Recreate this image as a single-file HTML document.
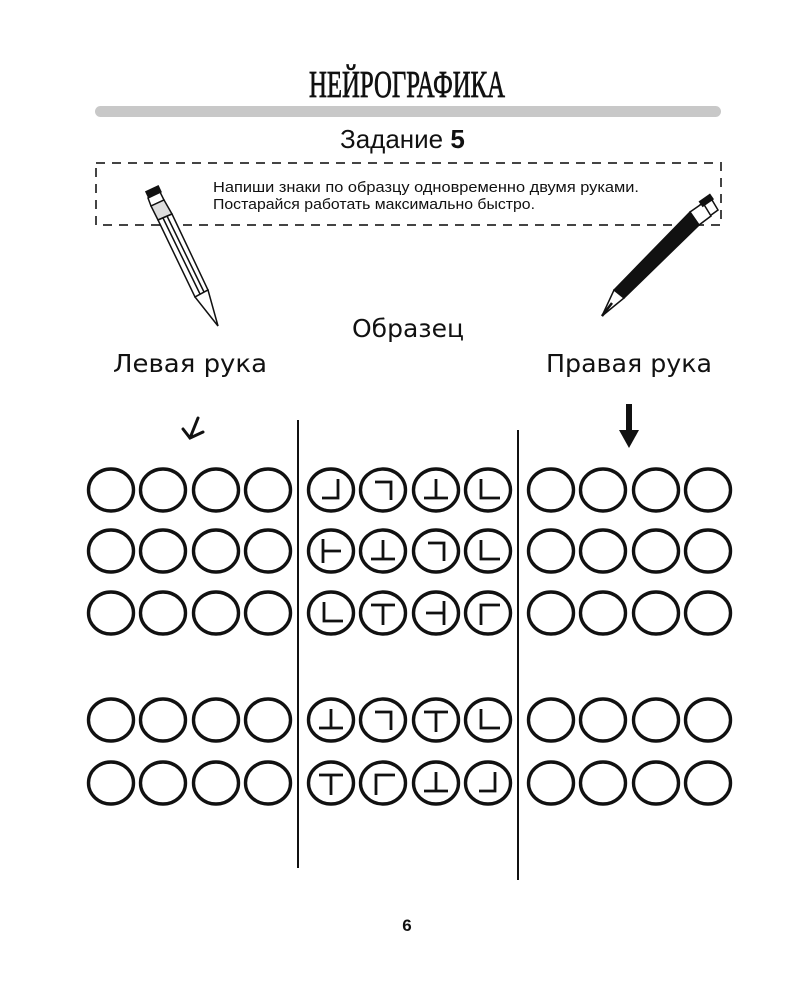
<!DOCTYPE html>
<html><head><meta charset="utf-8"><style>
html,body{margin:0;padding:0;background:#fff;}
svg{display:block}
</style></head><body>
<svg width="800" height="1000" viewBox="0 0 800 1000" xmlns="http://www.w3.org/2000/svg">
<defs>
<g id="row" fill="none" stroke="#111" stroke-width="3.4">
<ellipse cx="111" cy="0" rx="22.5" ry="21"/><ellipse cx="163" cy="0" rx="22.5" ry="21"/><ellipse cx="216" cy="0" rx="22.5" ry="21"/><ellipse cx="268" cy="0" rx="22.5" ry="21"/>
<ellipse cx="331" cy="0" rx="22.5" ry="21"/><ellipse cx="383" cy="0" rx="22.5" ry="21"/><ellipse cx="436" cy="0" rx="22.5" ry="21"/><ellipse cx="488" cy="0" rx="22.5" ry="21"/>
<ellipse cx="551" cy="0" rx="22.5" ry="21"/><ellipse cx="603" cy="0" rx="22.5" ry="21"/><ellipse cx="656" cy="0" rx="22.5" ry="21"/><ellipse cx="708" cy="0" rx="22.5" ry="21"/>
</g>
</defs>
<rect width="800" height="1000" fill="#fff"/>
<text x="407" y="97" text-anchor="middle" font-family="Liberation Serif, serif" font-size="38" fill="#111" stroke="#111" stroke-width="0.8" textLength="196" lengthAdjust="spacingAndGlyphs">НЕЙРОГРАФИКА</text>
<rect x="95" y="106" width="626" height="11" rx="5.5" fill="#c8c8c8"/>
<text x="340" y="148" font-family="Liberation Sans, sans-serif" font-size="26" fill="#111">Задание <tspan font-weight="bold">5</tspan></text>
<rect x="96" y="163" width="625" height="62" fill="none" stroke="#444" stroke-width="2" stroke-dasharray="9 7"/>
<text x="213" y="192" font-family="Liberation Sans, sans-serif" font-size="14.5" fill="#111" textLength="426" lengthAdjust="spacingAndGlyphs">Напиши знаки по образцу одновременно двумя руками.</text>
<text x="213" y="209" font-family="Liberation Sans, sans-serif" font-size="14.5" fill="#111" textLength="322" lengthAdjust="spacingAndGlyphs">Постарайся работать максимально быстро.</text>
<g stroke="#111" stroke-width="1.5" fill="#fff">
<polygon points="148,198 160,192 164,200 151,206"/>
<polygon points="151,206 164,200 172,214 158,220" fill="#ddd"/>
<polygon points="158,220 172,214 208,290 195,297"/>
<line x1="163" y1="218" x2="200" y2="294"/><line x1="167" y1="216" x2="204" y2="292"/>
<polygon points="195,297 208,290 218,326"/>
</g>
<rect x="146" y="188" width="15" height="8" transform="rotate(-25 153 192)" fill="#111"/>
<g stroke="#111" stroke-width="1.5">
<polygon points="700,205 712,200 718,210 707,218" fill="#fff"/>
<polygon points="690,212 703,203 711,216 699,225" fill="#fff"/>
<polygon points="690,212 699,225 624,298 614,290" fill="#111"/>
<polygon points="614,290 624,298 602,316" fill="#fff"/>
<line x1="612" y1="303" x2="602" y2="316" stroke-width="2.5"/>
</g>
<rect x="699" y="197" width="14" height="7" transform="rotate(-35 706 200)" fill="#111"/>
<g font-family="DejaVu Sans, sans-serif" font-size="25" fill="#111">
<text x="352" y="337" textLength="112" lengthAdjust="spacingAndGlyphs">Образец</text>
<text x="113" y="372" textLength="154" lengthAdjust="spacingAndGlyphs">Левая рука</text>
<text x="546" y="372" textLength="166" lengthAdjust="spacingAndGlyphs">Правая рука</text>
</g>
<path d="M198 418 L190 438 M183 429 L190 438 L203 432" stroke="#111" stroke-width="3" fill="none" stroke-linecap="round"/>
<rect x="626" y="404" width="6" height="30" fill="#111"/>
<polygon points="619,430 639,430 629,448" fill="#111"/>
<line x1="298" y1="420" x2="298" y2="868" stroke="#111" stroke-width="2"/>
<line x1="518" y1="430" x2="518" y2="880" stroke="#111" stroke-width="2"/>
<use href="#row" transform="translate(0 490)"/>
<use href="#row" transform="translate(0 551)"/>
<use href="#row" transform="translate(0 613)"/>
<use href="#row" transform="translate(0 720)"/>
<use href="#row" transform="translate(0 783)"/>
<g fill="none" stroke="#111" stroke-width="2.8">
<path transform="translate(331 490)" d="M-9 8 H7 V-11"/>
<path transform="translate(383 490)" d="M-8 -8 H8 V10"/>
<path transform="translate(436 490)" d="M-12 8 H12 M0 8 V-11"/>
<path transform="translate(488 490)" d="M-7 -11 V8 H12"/>
<path transform="translate(331 551)" d="M-8 -12 V12 M-8 0 H10"/>
<path transform="translate(383 551)" d="M-12 8 H12 M0 8 V-11"/>
<path transform="translate(436 551)" d="M-8 -8 H8 V10"/>
<path transform="translate(488 551)" d="M-7 -11 V8 H12"/>
<path transform="translate(331 613)" d="M-7 -11 V8 H12"/>
<path transform="translate(383 613)" d="M-12 -8 H12 M0 -8 V12"/>
<path transform="translate(436 613)" d="M-10 0 H8 M8 -12 V12"/>
<path transform="translate(488 613)" d="M-7 12 V-8 H12"/>
<path transform="translate(331 720)" d="M-12 8 H12 M0 8 V-11"/>
<path transform="translate(383 720)" d="M-8 -8 H8 V10"/>
<path transform="translate(436 720)" d="M-12 -8 H12 M0 -8 V12"/>
<path transform="translate(488 720)" d="M-7 -11 V8 H12"/>
<path transform="translate(331 783)" d="M-12 -8 H12 M0 -8 V12"/>
<path transform="translate(383 783)" d="M-7 12 V-8 H12"/>
<path transform="translate(436 783)" d="M-12 8 H12 M0 8 V-11"/>
<path transform="translate(488 783)" d="M-9 8 H7 V-11"/>
</g>
<text x="407" y="931" text-anchor="middle" font-family="Liberation Sans, sans-serif" font-weight="bold" font-size="17" fill="#111">6</text>
</svg>
</body></html>
